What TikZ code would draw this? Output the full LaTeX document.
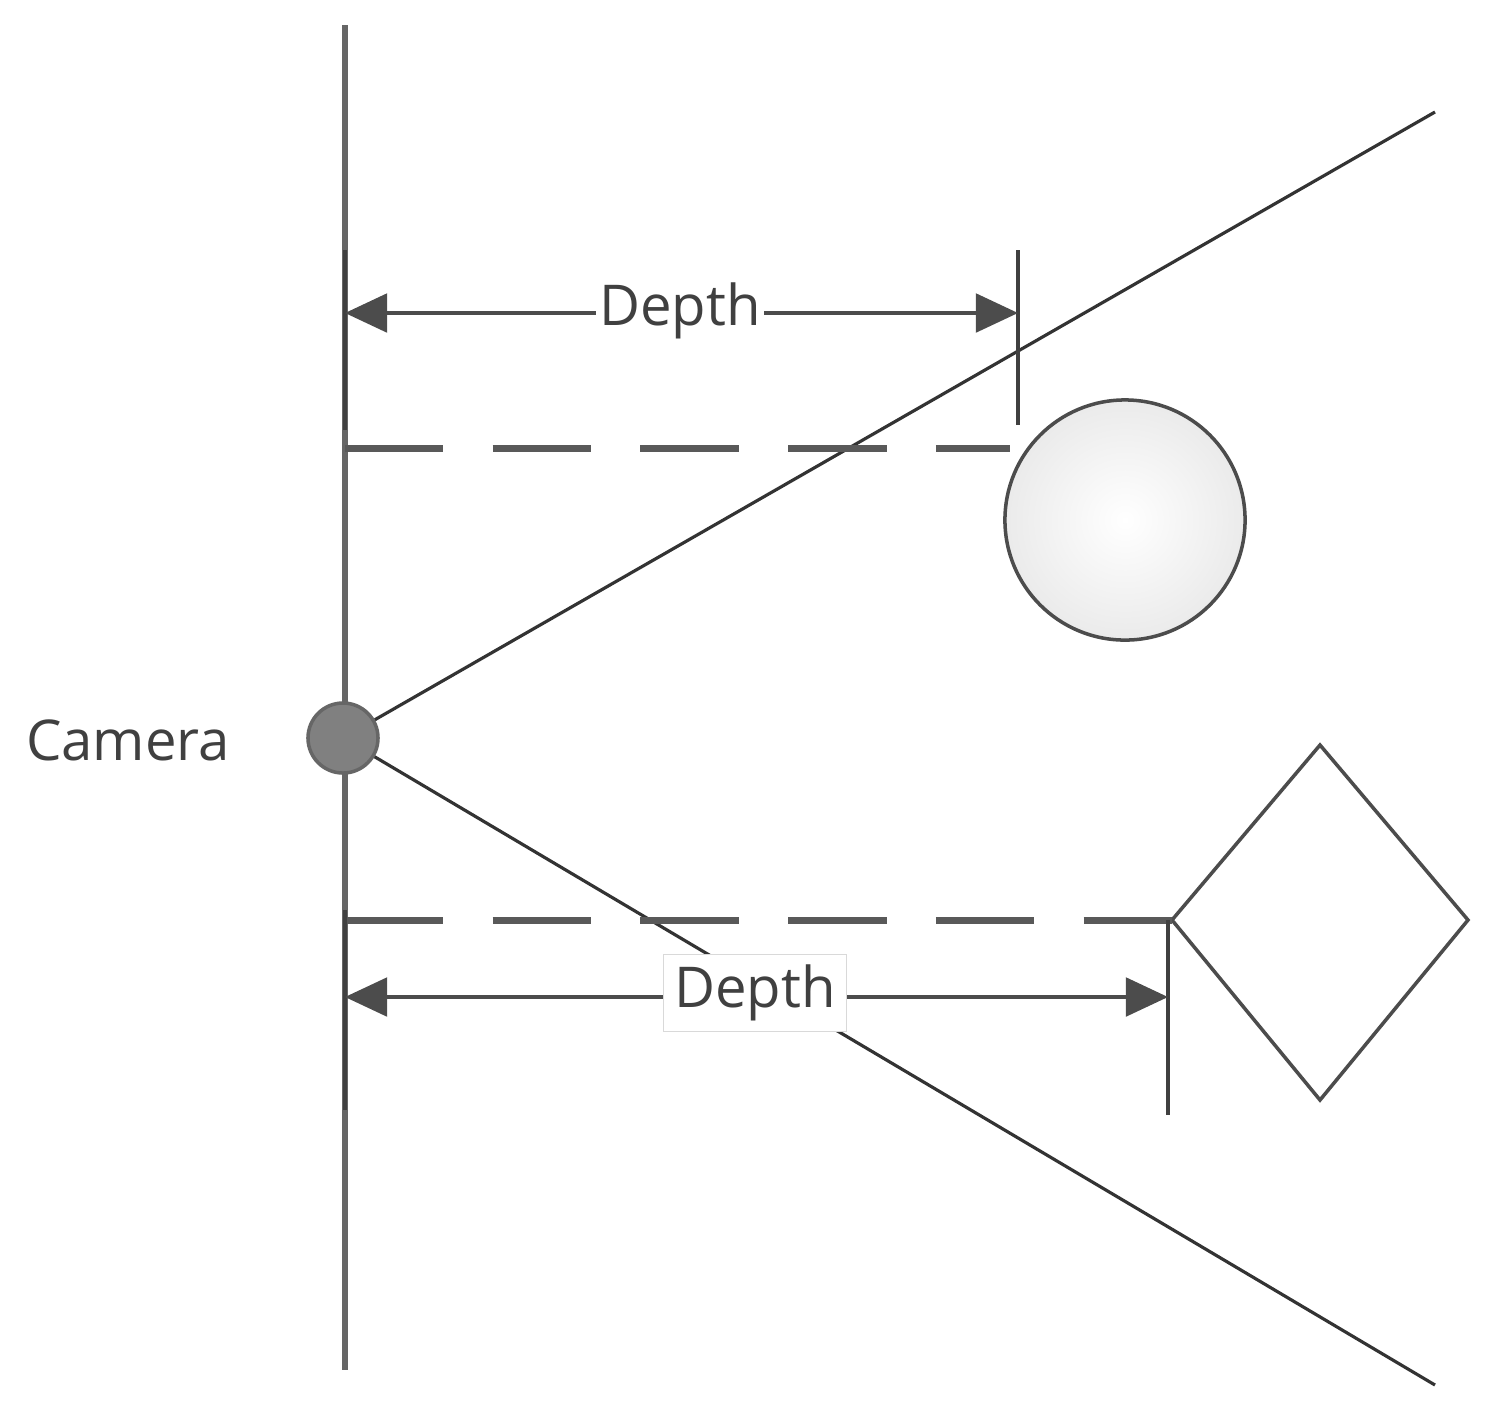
\documentclass[tikz,border=0pt]{standalone}
\usepackage{fontspec}
\setmainfont{Open Sans}
\usetikzlibrary{arrows.meta}
\tikzset{
 axis/.style={draw=black!60,line width=1.6pt},
 tick/.style={draw=black!75,line width=1.4pt},
 ray/.style={draw=black!80,line width=0.9pt},
 dashline/.style={draw=black!65,line width=2pt,dash pattern=on 28pt off 14pt},
 dim/.style={draw=black!70,line width=1pt,{Triangle[length=12pt,width=11pt]}-{Triangle[length=12pt,width=11pt]}},
 lab/.style={font=\fontsize{16}{18}\selectfont,text=black!75,fill=white,inner sep=1pt},
}
\begin{document}
\begin{tikzpicture}[x=0.01cm,y=-0.01cm]
\useasboundingbox (0,0) rectangle (1500,1408);
\coordinate (vt) at (345,25); \coordinate (vb) at (345,1370);
\draw[axis] (vt) -- (vb);
\coordinate (ue) at (1435,112); \coordinate (le) at (1435,1385);
\node[circle,draw=black!60,fill=black!50,minimum size=0.7cm,line width=1pt,inner sep=0] (cam) at (343,738) {};
\draw[ray] (cam) -- (ue);
\draw[ray] (cam) -- (le);
\node[lab,fill=none] (camlab) at (128,740) {Camera};
% upper
\coordinate (t1a) at (345,250); \coordinate (t1b) at (345,430);
\coordinate (t2a) at (1018,250); \coordinate (t2b) at (1018,425);
\draw[tick] (t1a) -- (t1b); \draw[tick] (t2a) -- (t2b);
\coordinate (a1) at (345,313); \coordinate (a2) at (1018,313);
\draw[dim] (a1) -- (a2);
\node[lab] (d1) at (680,311) {Depth};
\coordinate (ds1) at (345,448); \coordinate (de1) at (1010,448);
\draw[dashline] (ds1) -- (de1);
\node[circle,draw=black!70,line width=1pt,inner color=white,outer color=black!8,minimum size=2.4cm] (ball) at (1125,520) {};
% lower
\coordinate (dt) at (1320,745); \coordinate (dr) at (1468,920);
\coordinate (db) at (1320,1100); \coordinate (dl) at (1172,920);
\draw[draw=black!70,line width=1pt,fill=white] (dt) -- (dr) -- (db) -- (dl) -- cycle;
\coordinate (ds2) at (345,920); \coordinate (de2) at (1172,920);
\draw[dashline] (ds2) -- (de2);
\coordinate (t3a) at (345,910); \coordinate (t3b) at (345,1110);
\coordinate (t4a) at (1168,920); \coordinate (t4b) at (1168,1115);
\draw[tick] (t3a) -- (t3b); \draw[tick] (t4a) -- (t4b);
\coordinate (b1) at (345,997); \coordinate (b2) at (1168,997);
\draw[dim] (b1) -- (b2);
\node[lab,draw=black!15,inner sep=3pt] (d2) at (755,993) {Depth};
\end{tikzpicture}
\end{document}
